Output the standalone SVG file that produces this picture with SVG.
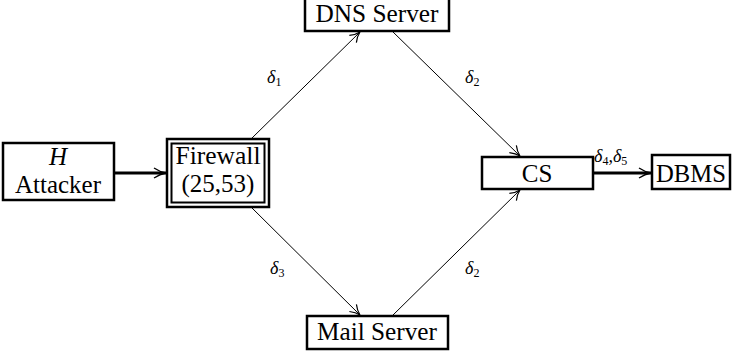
<svg xmlns="http://www.w3.org/2000/svg" width="734" height="354" viewBox="0 0 734 354">
<style>
.box{fill:#fff;stroke:#000;stroke-width:2.5}
.t{font-family:'Liberation Serif','DejaVu Serif',serif;font-size:25px;fill:#000;text-anchor:middle}
.d{font-family:'Liberation Serif','DejaVu Serif',serif;font-size:18px;font-style:italic;fill:#000}
.s{font-size:12px;font-style:normal}
.thin{fill:none;stroke:#000;stroke-width:1}
.thick{fill:none;stroke:#000;stroke-width:3}
</style>
<defs>
<marker id="ah" viewBox="0 0 12 12" refX="11" refY="6" markerWidth="12" markerHeight="12" markerUnits="userSpaceOnUse" orient="auto">
<path d="M1,1 Q6,5 11,6 Q6,7 1,11" fill="none" stroke="#000" stroke-width="1.2"/>
</marker>
<marker id="ahk" viewBox="0 0 14 14" refX="13" refY="7" markerWidth="14" markerHeight="14" markerUnits="userSpaceOnUse" orient="auto">
<path d="M1,2 Q7,6 13,7 Q7,8 1,12" fill="none" stroke="#000" stroke-width="1.3"/>
</marker>
</defs>
<g id="connectors">
<line class="thick" x1="114" y1="173" x2="166" y2="173" marker-end="url(#ahk)"/>
<line class="thin" x1="251" y1="139" x2="360" y2="32" marker-end="url(#ah)"/>
<line class="thin" x1="251" y1="207" x2="360" y2="315" marker-end="url(#ah)"/>
<line class="thin" x1="392" y1="31" x2="520" y2="156" marker-end="url(#ah)"/>
<line class="thin" x1="392" y1="316" x2="520" y2="190" marker-end="url(#ah)"/>
<line class="thick" x1="593" y1="173" x2="651" y2="173" marker-end="url(#ahk)"/>
<text class="d" x="267" y="83">δ<tspan class="s" dy="3">1</tspan></text>
<text class="d" x="465" y="83">δ<tspan class="s" dy="3">2</tspan></text>
<text class="d" x="270" y="274">δ<tspan class="s" dy="3">3</tspan></text>
<text class="d" x="465" y="274">δ<tspan class="s" dy="3">2</tspan></text>
<text class="d" x="594" y="162">δ<tspan class="s" dy="3">4</tspan><tspan dy="-3">,δ</tspan><tspan class="s" dy="3">5</tspan></text>
</g>
<g id="attacker">
<rect class="box" x="3" y="143" width="111" height="57"/>
<text class="t" x="58" y="165" font-style="italic">H</text>
<text class="t" x="58" y="193" textLength="86" lengthAdjust="spacingAndGlyphs">Attacker</text>
</g>
<g id="firewall">
<rect class="box" x="167" y="139" width="102" height="68" stroke-width="2"/>
<rect x="171.5" y="143.5" width="93" height="59" fill="none" stroke="#000" stroke-width="2"/>
<text class="t" x="218" y="164" textLength="85" lengthAdjust="spacingAndGlyphs">Firewall</text>
<text class="t" x="218" y="192">(25,53)</text>
</g>
<g id="dns">
<rect class="box" x="305" y="-2" width="144" height="33"/>
<text class="t" x="377" y="22" textLength="123" lengthAdjust="spacingAndGlyphs">DNS Server</text>
</g>
<g id="mail">
<rect class="box" x="307" y="316" width="141" height="33"/>
<text class="t" x="377" y="340" textLength="120" lengthAdjust="spacingAndGlyphs">Mail Server</text>
</g>
<g id="cs">
<rect class="box" x="482" y="157" width="111" height="32"/>
<text class="t" x="537" y="182">CS</text>
</g>
<g id="dbms">
<rect class="box" x="652" y="155" width="78" height="34"/>
<text class="t" x="691" y="182" textLength="70" lengthAdjust="spacingAndGlyphs">DBMS</text>
</g>
</svg>
